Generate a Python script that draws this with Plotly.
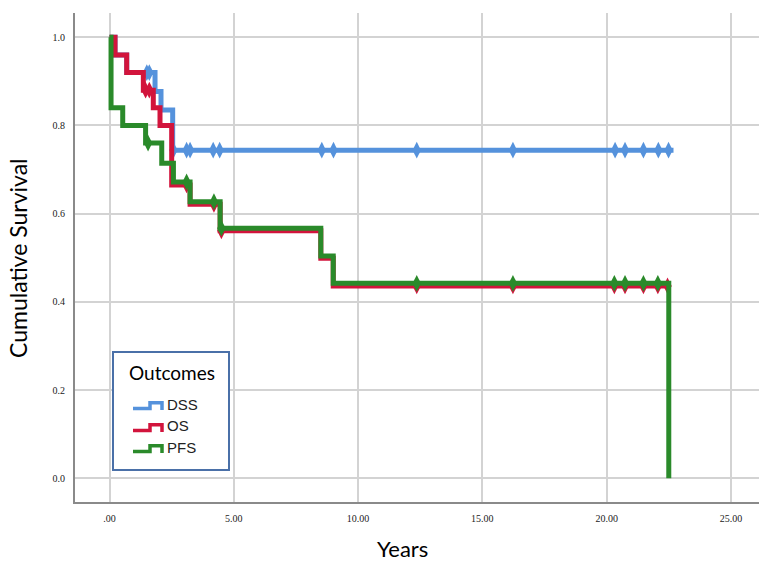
import plotly.graph_objects as go

# ---------------- data ----------------
dss_times = [0, 0.22, 0.69, 1.83, 2.07, 2.54, 22.69]
dss_surv = [1.0, 0.96, 0.92, 0.877, 0.835, 0.744, 0.744]
dss_censor = [1.5, 1.6, 2.57, 3.1, 3.24, 4.17, 4.43, 8.54, 9.01, 12.36, 16.23,
              20.34, 20.74, 21.48, 22.08, 22.49]

os_times = [0, 0.22, 0.69, 1.36, 1.76, 2.03, 2.5, 3.24, 4.45, 8.5, 9.0, 22.45]
os_surv = [1.0, 0.96, 0.92, 0.88, 0.84, 0.80, 0.665, 0.621, 0.561, 0.499, 0.436, 0.436]
os_censor = [1.45, 1.6, 3.1, 4.2, 4.5, 12.36, 16.23, 20.31, 20.74, 21.48, 22.06, 22.45]

pfs_times = [0, 0.06, 0.53, 1.45, 2.1, 2.57, 3.24, 4.45, 8.5, 9.0, 22.5]
pfs_surv = [1.0, 0.84, 0.80, 0.76, 0.714, 0.672, 0.627, 0.567, 0.504, 0.442, 0.0]
pfs_censor = [1.55, 3.1, 4.2, 4.5, 12.36, 16.23, 20.31, 20.74, 21.48, 22.06]

x_tickvals = [0, 5, 10, 15, 20, 25]
x_ticktext = [".00", "5.00", "10.00", "15.00", "20.00", "25.00"]
y_tickvals = [0.0, 0.2, 0.4, 0.6, 0.8, 1.0]
y_ticktext = ["0.0", "0.2", "0.4", "0.6", "0.8", "1.0"]

series = [
    ("DSS", dss_times, dss_surv, dss_censor, "#5592dc"),
    ("OS", os_times, os_surv, os_censor, "#d2143c"),
    ("PFS", pfs_times, pfs_surv, pfs_censor, "#2a8a2a"),
]


def step_value(times, surv, t):
    v = surv[0]
    for ti, si in zip(times, surv):
        if ti <= t:
            v = si
    return v


fig = go.Figure()
for name, times, surv, cens, color in series:
    fig.add_trace(go.Scatter(
        x=times, y=surv, mode="lines", line=dict(color=color, width=5, shape="hv"),
        name=name, showlegend=False, hoverinfo="skip"))
    fig.add_trace(go.Scatter(
        x=cens, y=[step_value(times, surv, t) for t in cens], mode="markers",
        marker=dict(symbol="diamond-tall", size=12, color=color),
        showlegend=False, hoverinfo="skip"))

W, H = 759, 563
L, R, T, B = 75, 0, 13, 61
PW, PH = W - L - R, H - T - B


def px(xp):
    return (xp - L) / PW


def py(yp):
    return (H - B - yp) / PH


fig.update_layout(
    width=W, height=H,
    margin=dict(l=L, r=R, t=T, b=B),
    paper_bgcolor="white", plot_bgcolor="white",
    xaxis=dict(range=[-1.39, 26.13], tickvals=x_tickvals, ticktext=x_ticktext,
               showgrid=True, gridcolor="#d3d3d3", gridwidth=2,
               showline=True, linecolor="#8a8a8a", linewidth=2,
               zeroline=False, ticks="", ticklabelstandoff=6,
               tickfont=dict(family="Liberation Serif", size=10, color="#222")),
    yaxis=dict(range=[-0.054, 1.055], tickvals=y_tickvals, ticktext=y_ticktext,
               showgrid=True, gridcolor="#d3d3d3", gridwidth=2,
               showline=True, linecolor="#8a8a8a", linewidth=2,
               zeroline=False, ticks="", ticklabelstandoff=6,
               tickfont=dict(family="Liberation Serif", size=10, color="#222")),
)


def ann(text, x, y, size, family, xanchor="center", angle=0, color="black"):
    return dict(text=text, x=px(x), y=py(y), xref="paper", yref="paper",
                xanchor=xanchor, yanchor="middle", textangle=angle, showarrow=False,
                font=dict(family=family, size=size, color=color))


annotations = [
    ann("Cumulative Survival", 18, 258, 23, "Lato", angle=-90),
    ann("Years", 402, 548, 22, "Lato"),
    ann("Outcomes", 172, 372, 19, "Lato"),
]

shapes = [
    dict(type="rect", xref="paper", yref="paper", x0=px(113), x1=px(229),
         y0=py(470), y1=py(352), fillcolor="white",
         line=dict(color="#4a70a8", width=2), layer="above"),
]

legend_rows = [("DSS", 404, "#5592dc"), ("OS", 426, "#d2143c"), ("PFS", 447, "#2a8a2a")]
for name, yc, color in legend_rows:
    lo, hi = yc + 4.5, yc - 1.3
    path = (f"M {px(133)} {py(lo)} L {px(150)} {py(lo)} L {px(150)} {py(hi)} "
            f"L {px(162)} {py(hi)} L {px(162)} {py(lo + 1.5)}")
    shapes.append(dict(type="path", xref="paper", yref="paper", path=path,
                       line=dict(color=color, width=3.5), layer="above"))
    annotations.append(ann(name, 165, yc, 15, "Liberation Sans", xanchor="left", color="#222"))

fig.update_layout(shapes=shapes, annotations=annotations)
fig.write_html("out.html")
